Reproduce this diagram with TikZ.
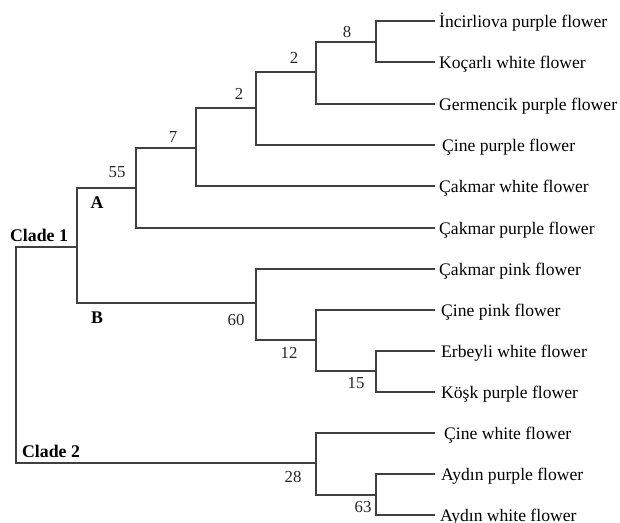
\documentclass[tikz,border=0pt]{standalone}
\usepackage{fontspec}
\setmainfont{Liberation Serif}
\begin{document}
\begin{tikzpicture}[x=1pt,y=-1pt,
  branch/.style={draw=black!75,line width=1.8pt},
  leaf/.style={anchor=west,inner xsep=4pt,inner ysep=0pt,text height=12pt,text depth=0pt,font=\fontsize{17.6}{20}\selectfont},
  boot/.style={inner sep=0pt,font=\fontsize{16.8}{20}\selectfont,text=black!85},
  clade/.style={inner sep=0pt,font=\fontsize{17.8}{20}\selectfont\bfseries}]
\useasboundingbox (0,0) rectangle (620,522);
% internal nodes
\coordinate (root) at (16,355);
\coordinate (c1) at (77,247);
\coordinate (n55) at (136,188);
\coordinate (n7) at (196,148);
\coordinate (n2a) at (256,108);
\coordinate (n2b) at (316,72);
\coordinate (n8) at (376,42);
\coordinate (n60) at (256,303);
\coordinate (n12) at (316,340);
\coordinate (n15) at (376,371);
\coordinate (n28) at (316,463);
\coordinate (n63) at (376,495);
% leaves
\node[leaf] (l1) at (435,21) {İncirliova purple flower};
\node[leaf] (l2) at (435,62) {Koçarlı white flower};
\node[leaf] (l3) at (435,104) {Germencik purple flower};
\node[leaf,inner xsep=7pt] (l4) at (435,145) {Çine purple flower};
\node[leaf] (l5) at (435,186) {Çakmar white flower};
\node[leaf] (l6) at (435,228) {Çakmar purple flower};
\node[leaf] (l7) at (435,269) {Çakmar pink flower};
\node[leaf,inner xsep=6pt] (l8) at (435,310) {Çine pink flower};
\node[leaf,inner xsep=6pt] (l9) at (435,351) {Erbeyli white flower};
\node[leaf,inner xsep=6pt] (l10) at (435,392) {Köşk purple flower};
\node[leaf,inner xsep=9pt] (l11) at (435,433) {Çine white flower};
\node[leaf,inner xsep=6pt] (l12) at (435,474) {Aydın purple flower};
\node[leaf,inner xsep=5pt] (l13) at (435,515) {Aydın white flower};
% branches
\draw[branch] (root) |- (c1);
\draw[branch] (root) |- (n28);
\draw[branch] (c1) |- (n55);
\draw[branch] (c1) |- (n60);
\draw[branch] (n55) |- (n7);
\draw[branch] (n55) |- (l6.west);
\draw[branch] (n7) |- (n2a);
\draw[branch] (n7) |- (l5.west);
\draw[branch] (n2a) |- (n2b);
\draw[branch] (n2a) |- (l4.west);
\draw[branch] (n2b) |- (n8);
\draw[branch] (n2b) |- (l3.west);
\draw[branch] (n8) |- (l1.west);
\draw[branch] (n8) |- (l2.west);
\draw[branch] (n60) |- (l7.west);
\draw[branch] (n60) |- (n12);
\draw[branch] (n12) |- (l8.west);
\draw[branch] (n12) |- (n15);
\draw[branch] (n15) |- (l9.west);
\draw[branch] (n15) |- (l10.west);
\draw[branch] (n28) |- (l11.west);
\draw[branch] (n28) |- (n63);
\draw[branch] (n63) |- (l12.west);
\draw[branch] (n63) |- (l13.west);
% labels
\node[boot] (b8) at (347,32) {8};
\node[boot] (b2b) at (294,58) {2};
\node[boot] (b2a) at (239,94) {2};
\node[boot] (b7) at (173,137) {7};
\node[boot] (b55) at (117,172) {55};
\node[boot] (b60) at (236,320) {60};
\node[boot] (b12) at (289,353) {12};
\node[boot] (b15) at (356,383) {15};
\node[boot] (b28) at (293,477) {28};
\node[boot] (b63) at (363,507) {63};
\node[clade] (cA) at (97,203) {A};
\node[clade] (cB) at (97,318) {B};
\node[clade] (cl1) at (39,235) {Clade 1};
\node[clade] (cl2) at (51,451) {Clade 2};
\end{tikzpicture}
\end{document}
